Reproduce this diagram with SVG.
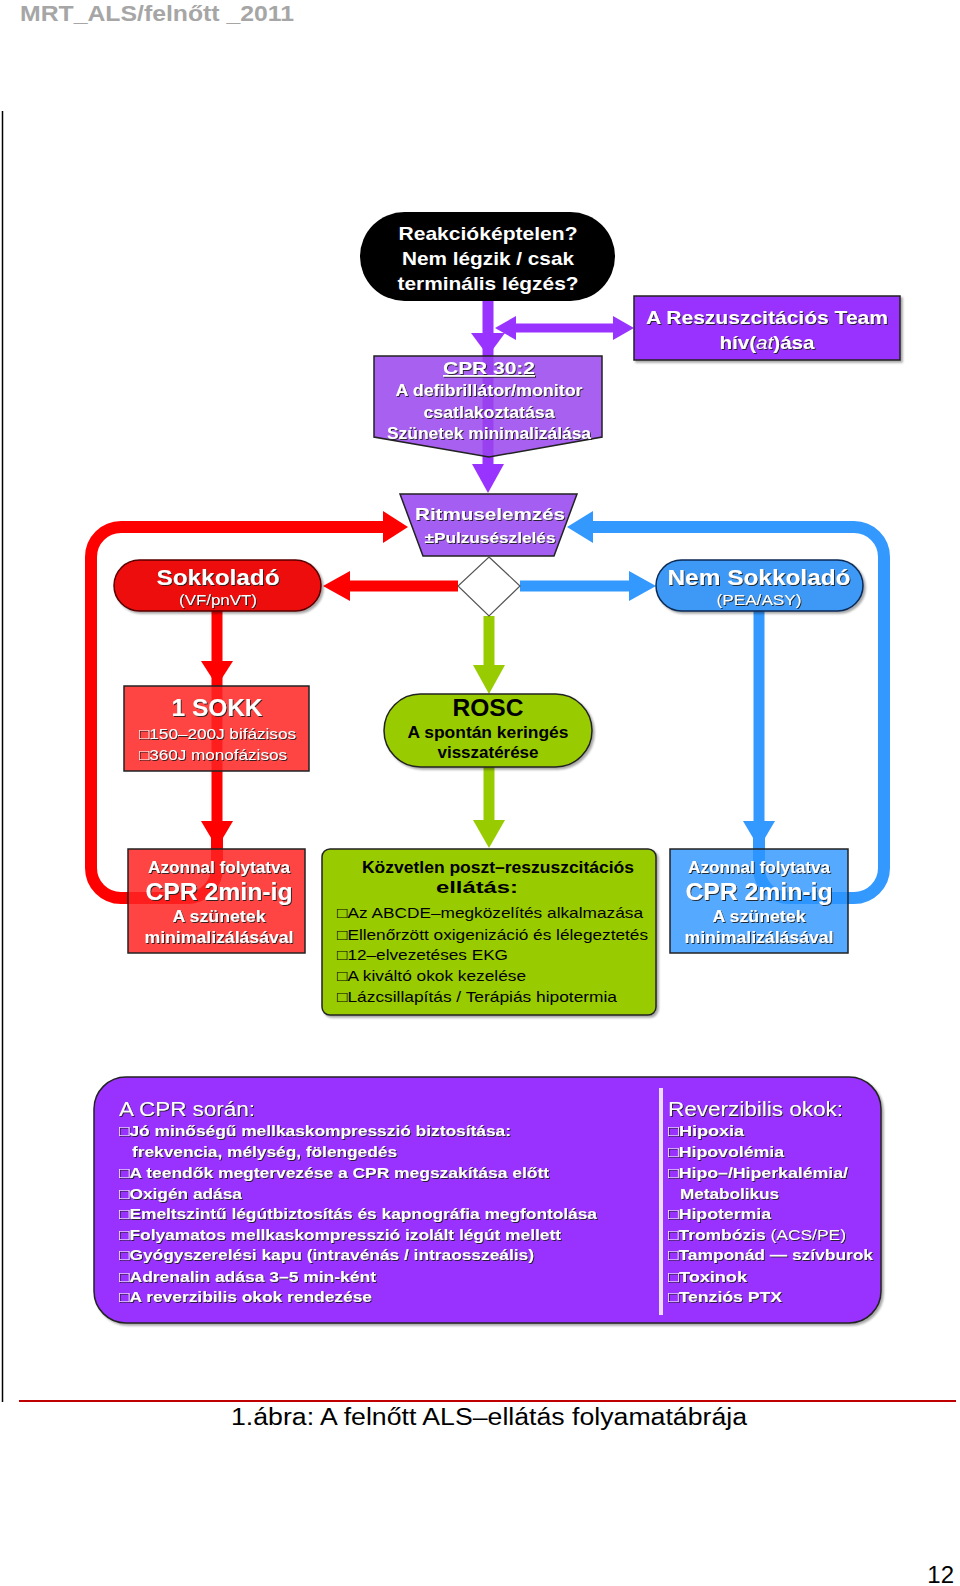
<svg xmlns="http://www.w3.org/2000/svg" width="960" height="1586" viewBox="0 0 960 1586">
<defs>
<filter id="ts" x="-5%" y="-20%" width="110%" height="150%"><feDropShadow dx="1" dy="1" stdDeviation="0.4" flood-color="#1a1a1a" flood-opacity="0.9"/></filter>
<filter id="bs" x="-5%" y="-5%" width="112%" height="115%"><feDropShadow dx="2" dy="2" stdDeviation="1" flood-color="#000" flood-opacity="0.35"/></filter>
</defs>
<style>
text{font-family:"Liberation Sans",Arial,"DejaVu Sans",sans-serif}
.w{fill:#fff;font-weight:bold;filter:url(#ts)}
.wn{fill:#fff;font-weight:normal;filter:url(#ts)}
.k{fill:#000;font-weight:bold}
.kn{fill:#000;font-weight:normal}
.c{text-anchor:middle}
.pl{stroke:#9933ff;fill:none}
.ph{fill:#9933ff}
.rl{stroke:#ff0000;fill:none}
.rh{fill:#ff0000}
.bl{stroke:#3399ff;fill:none}
.bh{fill:#3399ff}
.gl{stroke:#99cc00;fill:none}
.gh{fill:#99cc00}
.bd{stroke:#222;stroke-width:1.5}
</style>
<rect width="960" height="1586" fill="#fff"/>
<text x="20" y="21" font-size="22" font-weight="bold" fill="#a6a6a6" textLength="274" lengthAdjust="spacingAndGlyphs">MRT_ALS/felnőtt _2011</text>
<line x1="2.5" y1="111" x2="2.5" y2="1402" stroke="#000" stroke-width="1.5"/>
<line x1="19" y1="1401" x2="956" y2="1401" stroke="#c00000" stroke-width="2"/>
<text x="489" y="1425" font-size="23" fill="#000" class="c" textLength="516" lengthAdjust="spacingAndGlyphs">1.ábra: A felnőtt ALS–ellátás folyamatábrája</text>
<text x="954" y="1583" font-size="24" fill="#000" text-anchor="end">12</text>

<g id="connectors">
<line class="pl" x1="488" y1="300" x2="488" y2="470" stroke-width="11"/>
<polygon class="ph" points="471,333 505,333 488,356"/>
<line class="pl" x1="510" y1="328" x2="616" y2="328" stroke-width="9"/>
<polygon class="ph" points="495,328 516,316 516,340"/>
<polygon class="ph" points="634,328 613,316 613,340"/>
<polygon class="ph" points="472,464 504,464 488,493"/>

<line class="rl" x1="458" y1="586" x2="346" y2="586" stroke-width="11"/>
<polygon class="rh" points="323,586 350,571 350,601"/>
<line class="rl" x1="217" y1="611" x2="217" y2="826" stroke-width="11"/>
<polygon class="rh" points="201,661 233,661 217,686"/>
<polygon class="rh" points="201,821 233,821 217,848"/>
<path class="rl" d="M217 830 V868 A30 30 0 0 1 187 898 H121 A30 30 0 0 1 91 868 V557 A30 30 0 0 1 121 527 H388" stroke-width="12"/>
<polygon class="rh" points="383,511 408,527 383,543"/>

<line class="bl" x1="520" y1="586" x2="634" y2="586" stroke-width="11"/>
<polygon class="bh" points="656,586 629,571 629,601"/>
<line class="bl" x1="759" y1="611" x2="759" y2="826" stroke-width="11"/>
<polygon class="bh" points="743,821 775,821 759,848"/>
<path class="bl" d="M759 830 V868 A30 30 0 0 0 789 898 H854 A30 30 0 0 0 884 868 V557 A30 30 0 0 0 854 527 H590" stroke-width="12"/>
<polygon class="bh" points="593,511 567,527 593,543"/>

<line class="gl" x1="489" y1="616" x2="489" y2="670" stroke-width="11"/>
<polygon class="gh" points="473,665 505,665 489,694"/>
<line class="gl" x1="489" y1="767" x2="489" y2="825" stroke-width="11"/>
<polygon class="gh" points="473,820 505,820 489,848"/>
</g>

<g id="start">
<rect x="360" y="212" width="255" height="89" rx="44.5" fill="#000"/>
<text class="c" x="488" y="240" font-size="19" fill="#fff" font-weight="bold" textLength="179" lengthAdjust="spacingAndGlyphs">Reakcióképtelen?</text>
<text class="c" x="488" y="265" font-size="19" fill="#fff" font-weight="bold" textLength="172" lengthAdjust="spacingAndGlyphs">Nem légzik / csak</text>
<text class="c" x="488" y="290" font-size="19" fill="#fff" font-weight="bold" textLength="181" lengthAdjust="spacingAndGlyphs">terminális légzés?</text>
</g>

<g id="team">
<rect x="634" y="296" width="266" height="64" fill="#9933ff" class="bd" filter="url(#bs)"/>
<text class="w c" x="767" y="324" font-size="19" textLength="242" lengthAdjust="spacingAndGlyphs">A Reszuszcitációs Team</text>
<text class="w c" x="767" y="349" font-size="19" textLength="95" lengthAdjust="spacingAndGlyphs">hív(<tspan font-style="italic" font-weight="normal">at</tspan>)ása</text>
</g>

<g id="cpr">
<path d="M374 356 H602 V437 L489 457 L374 437 Z" fill="#9944ee" fill-opacity="0.85" class="bd"/>
<text class="w c" x="489" y="374" font-size="17" text-decoration="underline" textLength="92" lengthAdjust="spacingAndGlyphs">CPR 30:2</text>
<text class="w c" x="489" y="396" font-size="16" textLength="187" lengthAdjust="spacingAndGlyphs">A defibrillátor/monitor</text>
<text class="w c" x="489" y="418" font-size="16" textLength="131" lengthAdjust="spacingAndGlyphs">csatlakoztatása</text>
<text class="w c" x="489" y="439" font-size="16" textLength="204" lengthAdjust="spacingAndGlyphs">Szünetek minimalizálása</text>
</g>

<g id="ritmus">
<path d="M400 494 H577 L554 556 H423 Z" fill="#a55ef2" class="bd"/>
<text class="w c" x="490" y="520" font-size="17" textLength="150" lengthAdjust="spacingAndGlyphs">Ritmuselemzés</text>
<text class="w c" x="490" y="543" font-size="15" textLength="131" lengthAdjust="spacingAndGlyphs">±Pulzusészlelés</text>
</g>

<g id="decision">
<polygon points="489,557 520,586 489,616 458,586" fill="#fff" stroke="#555" stroke-width="1.2"/>
</g>

<g id="sokkolado">
<rect x="114" y="560" width="207" height="51" rx="25.5" fill="#ee0a0a" stroke="#5a0000" stroke-width="1.5" filter="url(#bs)"/>
<text class="w c" x="218" y="585" font-size="22" textLength="123" lengthAdjust="spacingAndGlyphs">Sokkoladó</text>
<text class="wn c" x="218" y="605" font-size="15" textLength="78" lengthAdjust="spacingAndGlyphs">(VF/pnVT)</text>
</g>

<g id="nemsokkolado">
<rect x="656" y="560" width="207" height="51" rx="25.5" fill="#3d99f5" stroke="#0a2a55" stroke-width="1.5" filter="url(#bs)"/>
<text class="w c" x="759" y="585" font-size="22" textLength="183" lengthAdjust="spacingAndGlyphs">Nem Sokkoladó</text>
<text class="wn c" x="759" y="605" font-size="15" textLength="85" lengthAdjust="spacingAndGlyphs">(PEA/ASY)</text>
</g>

<g id="sokk">
<rect x="124" y="686" width="185" height="85" fill="#ff2323" fill-opacity="0.85" class="bd"/>
<text class="w c" x="217" y="716" font-size="24" textLength="91" lengthAdjust="spacingAndGlyphs">1 SOKK</text>
<text class="wn" x="139" y="739" font-size="15" textLength="157" lengthAdjust="spacingAndGlyphs">□150–200J bifázisos</text>
<text class="wn" x="139" y="760" font-size="15" textLength="148" lengthAdjust="spacingAndGlyphs">□360J monofázisos</text>
</g>

<g id="rosc">
<rect x="384" y="694" width="208" height="73" rx="36.5" fill="#99cc00" class="bd" filter="url(#bs)"/>
<text class="k c" x="488" y="716" font-size="24" textLength="71" lengthAdjust="spacingAndGlyphs">ROSC</text>
<text class="k c" x="488" y="738" font-size="16" textLength="161" lengthAdjust="spacingAndGlyphs">A spontán keringés</text>
<text class="k c" x="488" y="758" font-size="16" textLength="101" lengthAdjust="spacingAndGlyphs">visszatérése</text>
</g>

<g id="cpr-red">
<rect x="128" y="849" width="177" height="104" fill="#ff2323" fill-opacity="0.85" class="bd"/>
<text class="w c" x="219" y="873" font-size="16" textLength="142" lengthAdjust="spacingAndGlyphs">Azonnal folytatva</text>
<text class="w c" x="219" y="900" font-size="23" textLength="147" lengthAdjust="spacingAndGlyphs">CPR 2min-ig</text>
<text class="w c" x="219" y="922" font-size="16" textLength="93" lengthAdjust="spacingAndGlyphs">A szünetek</text>
<text class="w c" x="219" y="943" font-size="16" textLength="149" lengthAdjust="spacingAndGlyphs">minimalizálásával</text>
</g>

<g id="post-rosc">
<rect x="322" y="849" width="334" height="166" rx="8" fill="#99cc00" class="bd" filter="url(#bs)"/>
<text class="k c" x="498" y="873" font-size="16" textLength="272" lengthAdjust="spacingAndGlyphs">Közvetlen  poszt–reszuszcitációs</text>
<text class="k c" x="477" y="893" font-size="16" textLength="82" lengthAdjust="spacingAndGlyphs">ellátás:</text>
<text class="kn" x="337" y="918" font-size="15" textLength="306" lengthAdjust="spacingAndGlyphs">□Az ABCDE–megközelítés alkalmazása</text>
<text class="kn" x="337" y="940" font-size="15" textLength="311" lengthAdjust="spacingAndGlyphs">□Ellenőrzött oxigenizáció és lélegeztetés</text>
<text class="kn" x="337" y="960" font-size="15" textLength="171" lengthAdjust="spacingAndGlyphs">□12–elvezetéses EKG</text>
<text class="kn" x="337" y="981" font-size="15" textLength="189" lengthAdjust="spacingAndGlyphs">□A kiváltó okok kezelése</text>
<text class="kn" x="337" y="1002" font-size="15" textLength="280" lengthAdjust="spacingAndGlyphs">□Lázcsillapítás / Terápiás hipotermia</text>
</g>

<g id="cpr-blue">
<rect x="670" y="849" width="178" height="104" fill="#2a94ff" fill-opacity="0.8" class="bd"/>
<text class="w c" x="759" y="873" font-size="16" textLength="142" lengthAdjust="spacingAndGlyphs">Azonnal folytatva</text>
<text class="w c" x="759" y="900" font-size="23" textLength="147" lengthAdjust="spacingAndGlyphs">CPR 2min-ig</text>
<text class="w c" x="759" y="922" font-size="16" textLength="93" lengthAdjust="spacingAndGlyphs">A szünetek</text>
<text class="w c" x="759" y="943" font-size="16" textLength="149" lengthAdjust="spacingAndGlyphs">minimalizálásával</text>
</g>

<g id="info">
<rect x="94" y="1077" width="787" height="246" rx="32" fill="#9933ff" class="bd" filter="url(#bs)"/>
<line x1="661" y1="1088" x2="661" y2="1315" stroke="#eadcff" stroke-width="4"/>
<text class="wn" x="119" y="1116" font-size="20" textLength="136" lengthAdjust="spacingAndGlyphs">A CPR során:</text>
<text class="w" x="119" y="1136" font-size="15" textLength="392" lengthAdjust="spacingAndGlyphs">□Jó minőségű mellkaskompresszió biztosítása:</text>
<text class="w" x="132" y="1157" font-size="15" textLength="265" lengthAdjust="spacingAndGlyphs">frekvencia, mélység, fölengedés</text>
<text class="w" x="119" y="1178" font-size="15" textLength="430" lengthAdjust="spacingAndGlyphs">□A teendők megtervezése a CPR megszakítása előtt</text>
<text class="w" x="119" y="1199" font-size="15" textLength="123" lengthAdjust="spacingAndGlyphs">□Oxigén adása</text>
<text class="w" x="119" y="1219" font-size="15" textLength="478" lengthAdjust="spacingAndGlyphs">□Emeltszintű légútbiztosítás és kapnográfia megfontolása</text>
<text class="w" x="119" y="1240" font-size="15" textLength="442" lengthAdjust="spacingAndGlyphs">□Folyamatos mellkaskompresszió izolált légút mellett</text>
<text class="w" x="119" y="1260" font-size="15" textLength="415" lengthAdjust="spacingAndGlyphs">□Gyógyszerelési kapu (intravénás / intraosszeális)</text>
<text class="w" x="119" y="1282" font-size="15" textLength="257" lengthAdjust="spacingAndGlyphs">□Adrenalin adása 3–5 min-ként</text>
<text class="w" x="119" y="1302" font-size="15" textLength="253" lengthAdjust="spacingAndGlyphs">□A reverzibilis okok rendezése</text>

<text class="wn" x="668" y="1116" font-size="20" textLength="175" lengthAdjust="spacingAndGlyphs">Reverzibilis okok:</text>
<text class="w" x="668" y="1136" font-size="15" textLength="76" lengthAdjust="spacingAndGlyphs">□Hipoxia</text>
<text class="w" x="668" y="1157" font-size="15" textLength="116" lengthAdjust="spacingAndGlyphs">□Hipovolémia</text>
<text class="w" x="668" y="1178" font-size="15" textLength="180" lengthAdjust="spacingAndGlyphs">□Hipo–/Hiperkalémia/</text>
<text class="w" x="680" y="1199" font-size="15" textLength="99" lengthAdjust="spacingAndGlyphs">Metabolikus</text>
<text class="w" x="668" y="1219" font-size="15" textLength="103" lengthAdjust="spacingAndGlyphs">□Hipotermia</text>
<text class="w" x="668" y="1240" font-size="15" textLength="178" lengthAdjust="spacingAndGlyphs">□Trombózis <tspan font-weight="normal">(ACS/PE)</tspan></text>
<text class="w" x="668" y="1260" font-size="15" textLength="205" lengthAdjust="spacingAndGlyphs">□Tamponád — szívburok</text>
<text class="w" x="668" y="1282" font-size="15" textLength="79" lengthAdjust="spacingAndGlyphs">□Toxinok</text>
<text class="w" x="668" y="1302" font-size="15" textLength="114" lengthAdjust="spacingAndGlyphs">□Tenziós PTX</text>
</g>
</svg>
